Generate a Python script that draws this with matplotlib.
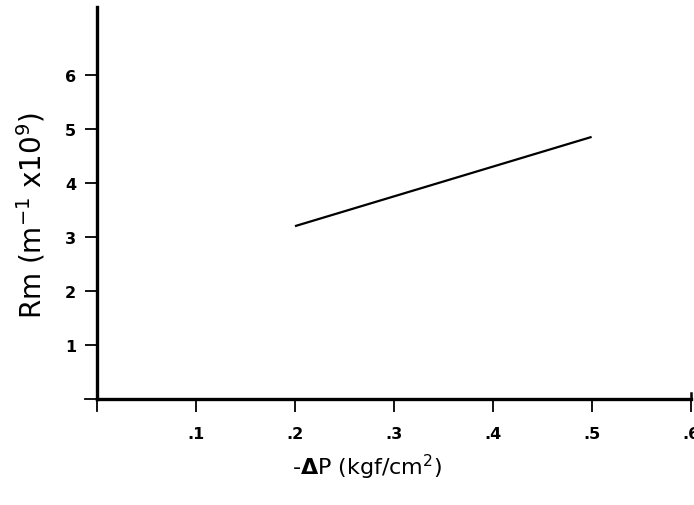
import matplotlib
matplotlib.use("Agg")
import matplotlib.pyplot as plt

plt.rcParams['font.family'] = ['DejaVu Sans']
plt.rcParams['mathtext.default'] = 'regular'

# pressure drop vs membrane resistance
dp = [0.2, 0.3, 0.4, 0.5]
rm = [3.2, 3.75, 4.3, 4.85]

x_ticks = [0.1, 0.2, 0.3, 0.4, 0.5, 0.6]
x_labels = ['.1', '.2', '.3', '.4', '.5', '.6']
y_ticks = [1, 2, 3, 4, 5, 6]

fig = plt.figure(figsize=(6.94, 5.06), dpi=100)
ax = fig.add_axes([0.140, 0.209, 0.855, 0.775])

ax.plot(dp, rm, color='black', linewidth=1.6, solid_capstyle='butt')

ax.set_xlim(0, 0.6)
ax.set_ylim(0, 7.25)

for side in ['top', 'right']:
    ax.spines[side].set_visible(False)
for side in ['left', 'bottom']:
    ax.spines[side].set_linewidth(2.4)

ax.set_xticks(x_ticks)
ax.set_xticklabels(x_labels)
ax.set_yticks(y_ticks)
ax.tick_params(axis='both', direction='out', length=9, width=1.3,
               labelsize=11.5)
ax.tick_params(axis='x', pad=10)
ax.tick_params(axis='y', pad=6)
for lbl in ax.get_yticklabels() + ax.get_xticklabels():
    lbl.set_fontweight('bold')

# small cross at the origin and hook at the end of the x axis
ax.plot([-0.012, 0], [0, 0], color='black', lw=1.3, clip_on=False)
ax.plot([0, 0], [0, -0.22], color='black', lw=1.3, clip_on=False)
ax.plot([0.6, 0.6], [0, 0.12], color='black', lw=1.8, clip_on=False)

ax.set_ylabel(r'Rm (m$^{-1}$ x10$^{9}$)', fontsize=20)
ax.yaxis.set_label_coords(-0.084, 0.472)
ax.set_xlabel(r'-$\mathbf{\Delta}$P (kgf/cm$^{2}$)', fontsize=16)
ax.xaxis.set_label_coords(0.455, -0.135)

fig.savefig('out.png', dpi=100)
